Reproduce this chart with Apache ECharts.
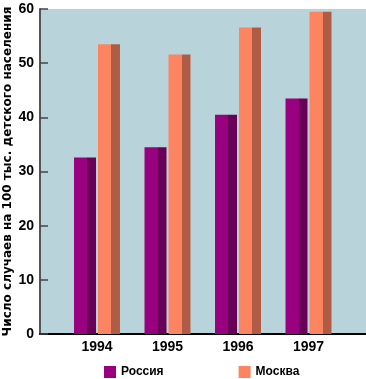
<!DOCTYPE html>
<html><head><meta charset="utf-8">
<script src="https://cdn.jsdelivr.net/npm/echarts@6/dist/echarts.min.js"></script>
<style>html,body{margin:0;padding:0;background:#fff}#c{width:366px;height:379px}</style>
</head><body><div id="c"></div>
<script>
const categories = ['1994', '1995', '1996', '1997'];
const russia = [32.6, 34.5, 40.5, 43.5];
const moscow = [53.5, 51.6, 56.6, 59.5];
const yTicks = [0, 10, 20, 30, 40, 50, 60];
const seriesNames = ['Россия', 'Москва'];
const yTitle = 'Число случаев на 100 тыс. детского населения';

const FONT = '"Liberation Sans", Arial, sans-serif';
function grad(front, side) {
  return {type: 'linear', x: 0, y: 0, x2: 1, y2: 0, colorStops: [
    {offset: 0, color: front}, {offset: 0.6, color: front},
    {offset: 0.6, color: side}, {offset: 1, color: side}]};
}
const chart = echarts.init(document.getElementById('c'), null, {renderer: 'canvas'});
chart.setOption({
  animation: false,
  backgroundColor: '#fff',
  grid: [
    {left: 40, right: 0, top: 9, bottom: 45, show: true, backgroundColor: '#b8d4da', borderWidth: 0,
     containLabel: false, outerBoundsMode: 'none'},
    {left: 61.75, width: 282, top: 9, bottom: 45, containLabel: false, outerBoundsMode: 'none'}
  ],
  xAxis: [
    {gridIndex: 0, type: 'value', min: 0, max: 1, axisLabel: {show: false}, axisTick: {show: false}, splitLine: {show: false},
     axisLine: {show: true, lineStyle: {color: '#000', width: 2}}},
    {gridIndex: 1, type: 'category', data: categories, axisLine: {show: false}, axisTick: {show: false},
     axisLabel: {color: '#000', fontFamily: FONT, fontWeight: 'bold', fontSize: 14, margin: 6}}
  ],
  yAxis: [
    {gridIndex: 0, type: 'value', min: yTicks[0], max: yTicks[yTicks.length - 1], interval: 10,
     name: yTitle, nameLocation: 'middle', nameRotate: 90, nameGap: 26, nameMoveOverlap: false,
     nameTextStyle: {color: '#000', fontFamily: '"DejaVu Sans", sans-serif', fontWeight: 'bold', fontSize: 12},
     axisLine: {show: true, lineStyle: {color: '#555', width: 2}},
     axisTick: {show: true, inside: true, length: 8, lineStyle: {color: '#444', width: 1.5}},
     splitLine: {show: false},
     axisLabel: {color: '#000', fontFamily: FONT, fontWeight: 'bold', fontSize: 14, margin: 6}},
    {gridIndex: 1, type: 'value', min: 0, max: 60, show: false}
  ],
  legend: {
    left: 104, top: 366, padding: 0, itemWidth: 12, itemHeight: 12, itemGap: 75, icon: 'rect',
    textStyle: {color: '#000', fontFamily: FONT, fontWeight: 'bold', fontSize: 12},
    data: [{name: seriesNames[0], itemStyle: {color: '#990080'}}, {name: seriesNames[1], itemStyle: {color: '#fc8461'}}]
  },
  series: [
    {name: seriesNames[0], type: 'bar', xAxisIndex: 1, yAxisIndex: 1, data: russia, barWidth: 22, barGap: '9%',
     itemStyle: {color: grad('#990080', '#680058')}},
    {name: seriesNames[1], type: 'bar', xAxisIndex: 1, yAxisIndex: 1, data: moscow, barWidth: 22, barGap: '9%',
     itemStyle: {color: grad('#fc8461', '#b05c45')}}
  ]
});
</script></body></html>
